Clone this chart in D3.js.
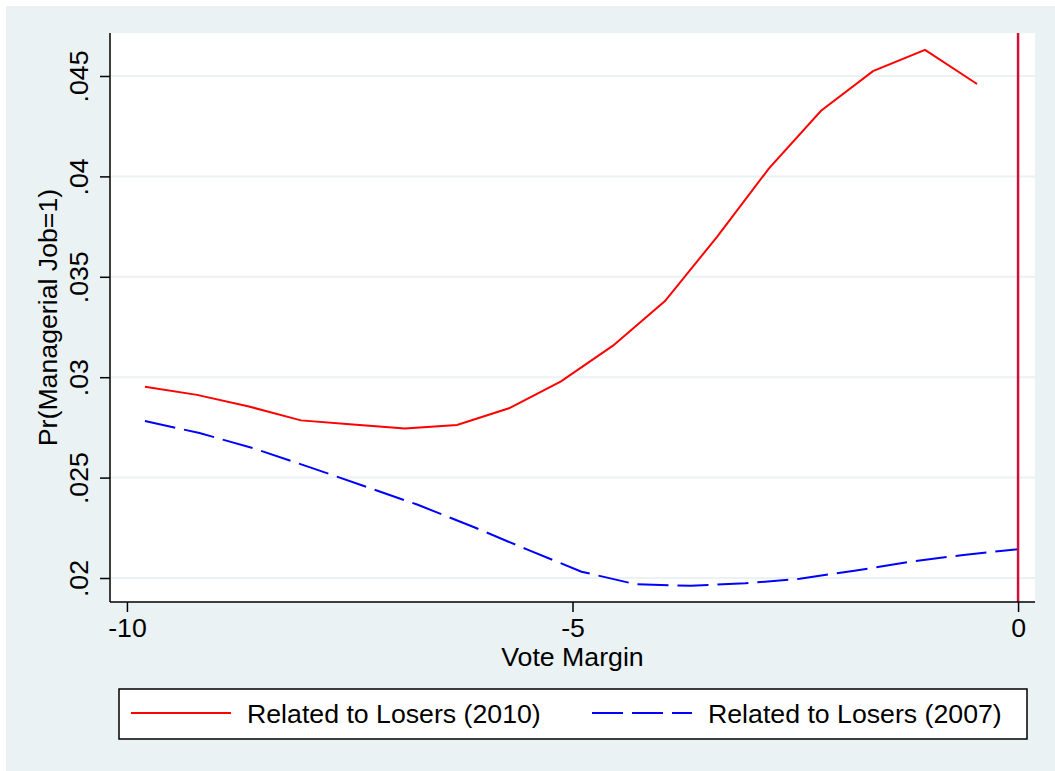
<!DOCTYPE html>
<html><head><meta charset="utf-8">
<script src="https://cdn.jsdelivr.net/npm/d3@7"></script>
<style>body{margin:0;background:#fff}svg{display:block}text{font-family:"Liberation Sans",Arial,sans-serif;fill:#000}</style>
</head><body>
<script>
// Data
const redX = [-9.798,-9.214,-8.631,-8.047,-7.464,-6.880,-6.296,-5.713,-5.129,-4.546,-3.962,-3.378,-2.795,-2.211,-1.628,-1.044,-0.460];
const redY = [0.02952,0.02912,0.02854,0.02785,0.02764,0.02744,0.02762,0.02845,0.02979,0.03157,0.03379,0.03699,0.0404,0.04327,0.04524,0.0463,0.0446];
const blueX = [-9.798,-9.186,-8.574,-7.961,-7.349,-6.736,-6.124,-5.512,-4.899,-4.287,-3.674,-3.062,-2.450,-1.837,-1.225,-0.612,0];
const blueY = [0.027815,0.02722,0.02645,0.025535,0.024595,0.023645,0.022565,0.021425,0.020315,0.019685,0.019615,0.019735,0.019965,0.02036,0.0208,0.02115,0.021435];
const xTicks = [-10,-5,0];
const yTicks = [0.02,0.025,0.03,0.035,0.04,0.045];
const yTickLabels = [".02",".025",".03",".035",".04",".045"];
const seriesNames = ["Related to Losers (2010)","Related to Losers (2007)"];
const xTitle = "Vote Margin", yTitle = "Pr(Managerial Job=1)";

const W=1055,H=771;
const svg=d3.select("body").append("svg").attr("width",W).attr("height",H);
svg.append("rect").attr("x",6).attr("y",6).attr("width",W-6).attr("height",H-6).attr("fill","#EAF2F3");
const L=110,R=1035,T=33,B=602;
svg.append("rect").attr("x",L).attr("y",T).attr("width",R-L).attr("height",B-T).attr("fill","#fff");
const x=d3.scaleLinear().domain([-10.19,0.19]).range([L,R]);
const y=d3.scaleLinear().domain([0.018805,0.047141]).range([B,T]);
const FS=26.7;
// grid
svg.append("g").selectAll("line").data(yTicks).join("line")
 .attr("x1",L).attr("x2",R).attr("y1",d=>y(d)).attr("y2",d=>y(d))
 .attr("stroke","#EAF2F3").attr("stroke-width",2);
// lines
const line=d3.line().x(d=>x(d[0])).y(d=>y(d[1]));
svg.append("path").datum(redX.map((v,i)=>[v,redY[i]])).attr("d",line)
 .attr("fill","none").attr("stroke","#FF0000").attr("stroke-width",2);
svg.append("path").datum(blueX.map((v,i)=>[v,blueY[i]])).attr("d",line)
 .attr("fill","none").attr("stroke","#0000FF").attr("stroke-width",2).attr("stroke-dasharray","31,9");
// vertical line at 0
svg.append("line").attr("x1",x(0)).attr("x2",x(0)).attr("y1",T).attr("y2",B)
 .attr("stroke","#D0103A").attr("stroke-width",2.5);
// axes
const yAx=d3.axisLeft(y).tickValues(yTicks).tickSize(10).tickFormat((d,i)=>yTickLabels[i]);
const gy=svg.append("g").attr("transform",`translate(${L},0)`).call(yAx);
gy.select(".domain").attr("stroke","#000").attr("stroke-width",1.5).attr("d",`M0,${T}V${B}`);
gy.selectAll(".tick line").attr("stroke","#000").attr("stroke-width",1.5);
gy.selectAll(".tick text").attr("font-size",FS).attr("font-family","Liberation Sans, Arial, sans-serif")
 .attr("transform","rotate(-90)").attr("x",0).attr("y",-22).attr("dy",0).attr("text-anchor","middle");
const xAx=d3.axisBottom(x).tickValues(xTicks).tickSize(10).tickFormat(d3.format("d"));
const gx=svg.append("g").attr("transform",`translate(0,${B})`).call(xAx);
gx.select(".domain").attr("stroke","#000").attr("stroke-width",1.5).attr("d",`M${L},0H${R}`);
gx.selectAll(".tick line").attr("stroke","#000").attr("stroke-width",1.5);
gx.selectAll(".tick text").attr("font-size",FS).attr("font-family","Liberation Sans, Arial, sans-serif")
 .attr("y",35).attr("dy",0).text(d=>d<0?"-"+Math.abs(d):d);
// titles
svg.append("text").attr("x",x(-5)).attr("y",666).attr("text-anchor","middle").attr("font-size",FS).text(xTitle);
svg.append("text").attr("transform",`translate(57,${(T+B)/2})rotate(-90)`).attr("text-anchor","middle").attr("font-size",FS).text(yTitle);
// legend
svg.append("rect").attr("x",119).attr("y",689).attr("width",908).attr("height",50).attr("fill","#fff").attr("stroke","#000").attr("stroke-width",1.5);
svg.append("line").attr("x1",131).attr("x2",231).attr("y1",713).attr("y2",713).attr("stroke","#FF0000").attr("stroke-width",2);
svg.append("text").attr("x",247).attr("y",723).attr("font-size",FS).text(seriesNames[0]);
svg.append("line").attr("x1",592).attr("x2",692).attr("y1",713).attr("y2",713).attr("stroke","#0000FF").attr("stroke-width",2).attr("stroke-dasharray","31,9");
svg.append("text").attr("x",708).attr("y",723).attr("font-size",FS).text(seriesNames[1]);
</script>
</body></html>
